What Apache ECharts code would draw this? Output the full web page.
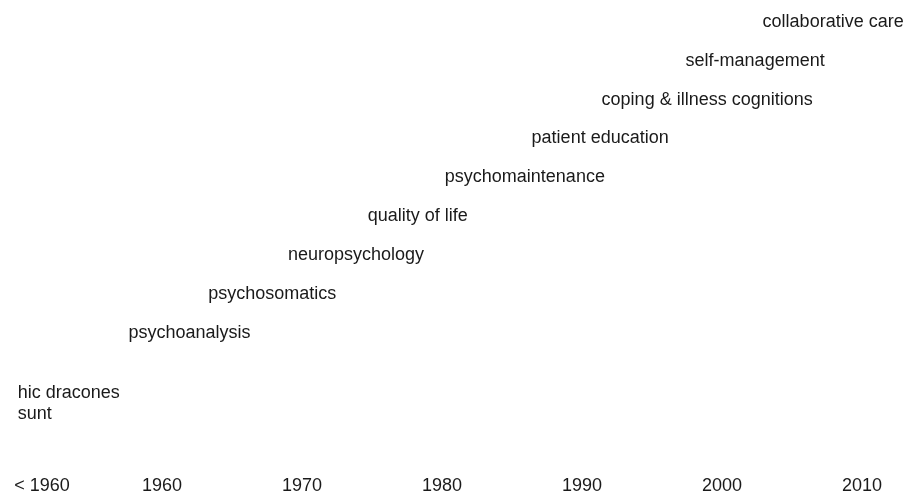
<!DOCTYPE html>
<html>
<head>
<meta charset="utf-8">
<script src="https://cdn.jsdelivr.net/npm/echarts@6/dist/echarts.min.js"></script>
<style>
html,body{margin:0;padding:0;background:#fff;}
#chart{width:907px;height:495px;}
</style>
</head>
<body>
<div id="chart"></div>
<script>
// Timeline topics: label, start year (x), level (y)
const topics = ['hic dracones\nsunt', 'psychoanalysis', 'psychosomatics', 'neuropsychology',
  'quality of life', 'psychomaintenance', 'patient education',
  'coping & illness cognitions', 'self-management', 'collaborative care'];
const topicYears = [1949.7, 1957.6, 1963.3, 1969.0, 1974.7, 1980.2, 1986.4, 1991.4, 1997.4, 2002.9];
const topicLevels = [-0.82, 1, 2, 3, 4, 5, 6, 7, 8, 9];

// Axis ticks
const tickValues = [1951.43, 1960, 1970, 1980, 1990, 2000, 2010];
const tickLabels = ['< 1960', '1960', '1970', '1980', '1990', '2000', '2010'];

const font = 'Liberation Sans, Arial, Helvetica, sans-serif';
const chart = echarts.init(document.getElementById('chart'), null, {renderer: 'canvas'});
chart.setOption({
  animation: false,
  backgroundColor: '#ffffff',
  grid: {left: 22, right: 3, top: 2.6, bottom: 26.4, containLabel: false},
  xAxis: {
    type: 'value', min: 1950, max: 2013,
    axisLine: {show: false}, axisTick: {show: false}, splitLine: {show: false},
    axisLabel: {
      customValues: tickValues,
      color: '#1a1a1a', fontSize: 18, fontFamily: font, margin: 8,
      formatter: function (v) {
        let best = 0, d = Infinity;
        tickValues.forEach((t, i) => { if (Math.abs(t - v) < d) { d = Math.abs(t - v); best = i; } });
        return tickLabels[best];
      }
    }
  },
  yAxis: {
    type: 'value', min: -2.5, max: 9.5, show: false
  },
  series: [{
    type: 'scatter',
    clip: false,
    symbolSize: 0,
    itemStyle: {opacity: 1},
    data: topics.map((t, i) => ({value: [topicYears[i], topicLevels[i]], name: t})),
    label: {
      show: true, position: 'right', distance: 0, opacity: 1,
      formatter: p => p.name,
      color: '#1a1a1a', fontSize: 18, fontFamily: font, lineHeight: 21
    }
  }]
});
</script>
</body>
</html>
